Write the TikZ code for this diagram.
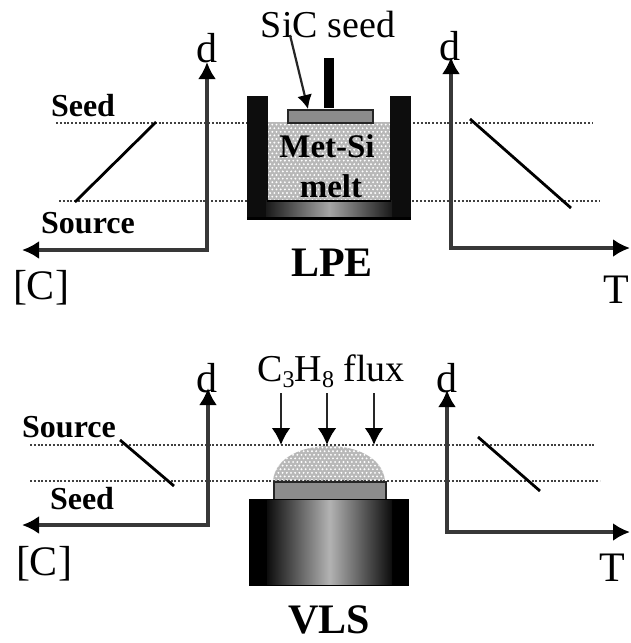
\documentclass[tikz,border=0pt]{standalone}
\usepackage{fontspec}
\setmainfont{Liberation Serif}
\usetikzlibrary{arrows.meta}
\definecolor{meltgray}{gray}{0.72}
\definecolor{seedgray}{gray}{0.55}
\tikzset{
  axis/.style={draw=black!78,line width=3.2pt,{Latex[length=17pt,width=18pt,black]}-{Latex[length=17pt,width=18pt,black]}},
  level/.style={draw=black!75,line width=2.6pt,dash pattern=on 1.9pt off 1.9pt},
  trend/.style={draw=black,line width=2.8pt},
  flux/.style={draw=black!85,line width=2.8pt,-{Latex[length=17pt,width=19pt,black]}},
  big/.style={font=\fontsize{38}{40}\selectfont,inner sep=0pt},
  side/.style={font=\fontsize{32}{34}\selectfont\bfseries,inner sep=0pt},
  inmelt/.style={font=\fontsize{33}{35}\selectfont\bfseries,inner sep=0pt,align=center},
  title/.style={font=\fontsize{42}{44}\selectfont\bfseries,inner sep=0pt},
  axlab/.style={font=\fontsize{42}{44}\selectfont,inner sep=0pt},
  seedbar/.style={draw=black!85,line width=2.2pt,fill=seedgray},
  wall/.style={fill=black!95},
}
\newcommand{\subsc}[1]{\raisebox{-0.35ex}{\fontsize{24}{24}\selectfont #1}}
\newcommand{\meltdots}[4]{%
  \foreach \iy in {0,...,30}{%
    \foreach \ix in {0,...,45}{%
      \pgfmathsetmacro{\dx}{#1+\ix*4.2+mod(\iy,2)*2.1}%
      \pgfmathsetmacro{\dy}{#2+\iy*3.6}%
      \fill[white] (\dx,\dy) circle[radius=1.05pt];%
    }%
  }%
}
\begin{document}
\begin{tikzpicture}[x=1pt,y=-1pt]
\useasboundingbox (0,0) rectangle (630,643);
\fill[white] (0,0) rectangle (630,643);
% ---------- LPE ----------
\coordinate (l1a) at (56,123); \coordinate (l1b) at (592,123);
\coordinate (l2a) at (59,201); \coordinate (l2b) at (600,201);
\draw[level] (l1a) -- (l1b);
\draw[level] (l2a) -- (l2b);
% melt
\begin{scope}
\clip (268,122) rectangle (390,201);
\fill[meltgray] (268,122) rectangle (390,201);
\meltdots{266}{121}{}{}
\end{scope}
% crucible
\fill[wall] (247,96) rectangle (268,220);
\fill[wall] (390,96) rectangle (411,220);
\shade[left color=black!90,right color=black!90,middle color=black!35] (266,200) rectangle (392,218);
\fill[black] (247,217) rectangle (411,220);
\fill[black] (267,200) rectangle (391,201.5);
\fill[black] (324,58) rectangle (334,108);
\node[seedbar,minimum width=85pt,minimum height=13pt,inner sep=0pt,anchor=north west] (seed1) at (287,108.5) {};
\node[inmelt] (metsi) at (327,146) {Met-Si};
\node[inmelt] (melt) at (331,186) {melt};
\node[big] (sicseed) at (328,24) {SiC seed};
\coordinate (sictail) at (290,35);
\coordinate (sictip) at (308,109);
\draw[draw=black!85,line width=2.2pt,-{Latex[length=14pt,width=15pt,black]}] (sictail) -- (sictip);
% axes
\coordinate (c1) at (207,250); \coordinate (c1u) at (207,62); \coordinate (c1l) at (22,250);
\coordinate (t1) at (451,248); \coordinate (t1u) at (451,57); \coordinate (t1r) at (630,248);
\draw[axis] (c1u) -- (c1) -- (c1l);
\draw[axis] (t1u) -- (t1) -- (t1r);
\coordinate (a1) at (75,202); \coordinate (a2) at (156,122);
\coordinate (b1) at (470,119); \coordinate (b2) at (571,208);
\draw[trend] (a1) -- (a2);
\draw[trend] (b1) -- (b2);
\node[side] (seedA) at (83,106) {Seed};
\node[side] (sourceA) at (88,223) {Source};
\node[axlab] (dA) at (207,48) {d};
\node[axlab] (dB) at (450,46) {d};
\node[axlab] (cA) at (41,288) {[C]};
\node[axlab] (tA) at (616,290) {T};
\node[title] (lpe) at (332,263) {LPE};
% ---------- VLS ----------
\coordinate (l3a) at (30,445); \coordinate (l3b) at (594,445);
\coordinate (l4a) at (30,481); \coordinate (l4b) at (600,481);
\begin{scope}
\clip (273,481) .. controls (275,457) and (303,446) .. (329,446) .. controls (355,446) and (383,457) .. (385,481) -- cycle;
\fill[meltgray] (270,444) rectangle (388,482);
\foreach \iy in {0,...,11}{\foreach \ix in {0,...,29}{%
  \pgfmathsetmacro{\dx}{270+\ix*4.2+mod(\iy,2)*2.1}%
  \pgfmathsetmacro{\dy}{444+\iy*3.6}%
  \fill[white] (\dx,\dy) circle[radius=1.05pt];}}
\end{scope}
\draw[level] (l3a) -- (l3b);
\draw[level] (l4a) -- (l4b);
\node[seedbar,minimum width=112pt,minimum height=18pt,inner sep=0pt,anchor=north west] (seed2) at (273,481) {};
\fill[black] (249,499) rectangle (409,586);
\shade[left color=black!95,right color=black!95,middle color=black!30] (267,500) rectangle (392,584);
\node[big] (fluxlab) at (331,371) {C\subsc{3}H\subsc{8} flux};
\coordinate (f1a) at (281,393); \coordinate (f1b) at (281,445);
\coordinate (f2a) at (327,393); \coordinate (f2b) at (327,445);
\coordinate (f3a) at (374,393); \coordinate (f3b) at (374,445);
\draw[flux] (f1a) -- (f1b);
\draw[flux] (f2a) -- (f2b);
\draw[flux] (f3a) -- (f3b);
\coordinate (c2) at (208,525); \coordinate (c2u) at (208,388); \coordinate (c2l) at (22,525);
\coordinate (t2) at (447,532); \coordinate (t2u) at (447,390); \coordinate (t2r) at (630,532);
\draw[axis] (c2u) -- (c2) -- (c2l);
\draw[axis] (t2u) -- (t2) -- (t2r);
\coordinate (p1) at (120,440); \coordinate (p2) at (174,486);
\coordinate (q1) at (478,437); \coordinate (q2) at (540,491);
\draw[trend] (p1) -- (p2);
\draw[trend] (q1) -- (q2);
\node[side] (sourceB) at (69,427) {Source};
\node[side] (seedB) at (82,499) {Seed};
\node[axlab] (dC) at (207,378) {d};
\node[axlab] (dD) at (447,378) {d};
\node[axlab] (cB) at (44,564) {[C]};
\node[axlab] (tB) at (612,568) {T};
\node[title] (vls) at (329,620) {VLS};
\end{tikzpicture}
\end{document}
